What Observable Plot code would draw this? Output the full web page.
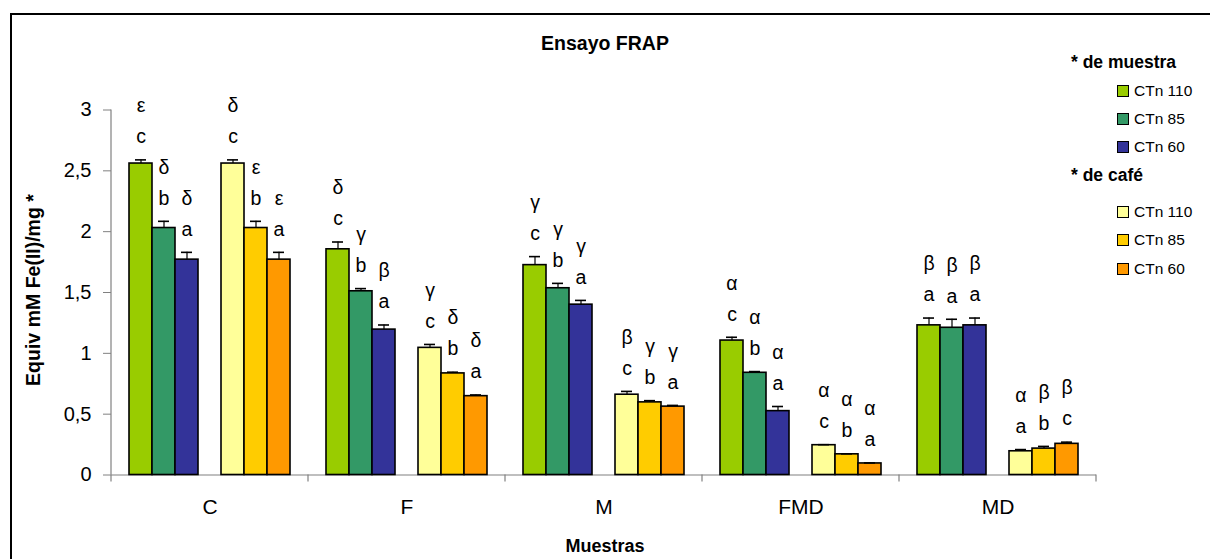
<!DOCTYPE html>
<html>
<head>
<meta charset="utf-8">
<script src="https://cdn.jsdelivr.net/npm/d3@7"></script>
<script src="https://cdn.jsdelivr.net/npm/@observablehq/plot@0.6"></script>
<style>
  html, body { margin: 0; padding: 0; width: 1210px; height: 559px; overflow: hidden; background: #fff; }
  body { position: relative; font-family: "Liberation Sans", Arial, sans-serif; }
  #frame { position: absolute; left: 10px; top: 13px; width: 1400px; height: 800px; border: 2px solid #000; box-sizing: border-box; }
  #chart { position: absolute; left: 0; top: 0; }
  .t { position: absolute; white-space: nowrap; color: #000; }
  .sw { position: absolute; width: 10px; height: 10px; border: 1px solid #000; }
</style>
</head>
<body>
<div id="frame"></div>
<div id="chart"></div>
<div id="overlay"></div>
<script>
// ---- data ----
const groups = ["C", "F", "M", "FMD", "MD"];
const seriesKeys = ["m110", "m85", "m60", "c110", "c85", "c60"];
const seriesNames = ["CTn 110", "CTn 85", "CTn 60", "CTn 110", "CTn 85", "CTn 60"];
const seriesColors = ["#99CC00", "#339966", "#333399", "#FFFF99", "#FFCC00", "#FF9900"];
const legendHeaders = ["* de muestra", "* de café"];
const yTicks = [0, 0.5, 1, 1.5, 2, 2.5, 3];

const m110 = [2.56, 1.855, 1.725, 1.105, 1.23];
const m85  = [2.03, 1.51, 1.535, 0.84, 1.21];
const m60  = [1.77, 1.195, 1.40, 0.525, 1.23];
const c110 = [2.56, 1.045, 0.66, 0.245, 0.195];
const c85  = [2.03, 0.835, 0.597, 0.17, 0.217];
const c60  = [1.77, 0.648, 0.562, 0.095, 0.256];

const m110Err = [0.03, 0.06, 0.07, 0.027, 0.06];
const m85Err  = [0.055, 0.022, 0.04, 0.01, 0.07];
const m60Err  = [0.06, 0.038, 0.035, 0.038, 0.06];
const c110Err = [0.03, 0.028, 0.027, 0.004, 0.014];
const c85Err  = [0.055, 0.01, 0.014, 0.004, 0.018];
const c60Err  = [0.06, 0.01, 0.01, 0.004, 0.014];

const m110Lat = ["c", "c", "c", "c", "a"], m110Gr = ["ε", "δ", "γ", "α", "β"];
const m85Lat  = ["b", "b", "b", "b", "a"], m85Gr  = ["δ", "γ", "γ", "α", "β"];
const m60Lat  = ["a", "a", "a", "a", "a"], m60Gr  = ["δ", "β", "γ", "α", "β"];
const c110Lat = ["c", "c", "c", "c", "a"], c110Gr = ["δ", "γ", "β", "α", "α"];
const c85Lat  = ["b", "b", "b", "b", "b"], c85Gr  = ["ε", "δ", "γ", "α", "β"];
const c60Lat  = ["a", "a", "a", "a", "c"], c60Gr  = ["ε", "δ", "γ", "α", "β"];

const valueSets = [m110, m85, m60, c110, c85, c60];
const errSets = [m110Err, m85Err, m60Err, c110Err, c85Err, c60Err];
const latSets = [m110Lat, m85Lat, m60Lat, c110Lat, c85Lat, c60Lat];
const grSets = [m110Gr, m85Gr, m60Gr, c110Gr, c85Gr, c60Gr];

const rows = [];
seriesKeys.forEach((s, i) => groups.forEach((g, j) => rows.push({
  group: g, series: s, value: valueSets[i][j], err: errSets[i][j],
  lat: latSets[i][j], gr: grSets[i][j]
})));
const barTop = d => d.value + d.err;

const plot = Plot.plot({
  width: 1210, height: 559,
  marginLeft: 110, marginRight: 113, marginTop: 109.5, marginBottom: 84.5,
  style: { fontFamily: "'Liberation Sans', Arial, sans-serif", background: "transparent", overflow: "visible" },
  fx: { domain: groups, padding: 0, label: null },
  x: { domain: ["m110", "m85", "m60", "gap", "c110", "c85", "c60"], paddingInner: 0, paddingOuter: 0.75, axis: null },
  y: { domain: [0, 3], axis: null },
  color: { domain: seriesKeys, range: seriesColors },
  marks: [
    Plot.axisY({ ticks: yTicks, tickFormat: d => String(d).replace(".", ","), tickSize: 8, tickPadding: 12,
      fontSize: 20, stroke: "#808080", fill: "#000", label: null }),
    Plot.axisFx({ anchor: "bottom", tickSize: 0, tickPadding: 24, fontSize: 21, fill: "#000", label: null }),
    Plot.ruleY([0], { stroke: "#808080", strokeWidth: 1.2 }),
    Plot.barY(rows, { fx: "group", x: "series", y: "value", fill: "series", stroke: "#000", strokeWidth: 1.6 }),
    Plot.ruleX(rows, { fx: "group", x: "series", y1: "value", y2: barTop, stroke: "#000", strokeWidth: 1.2 }),
    Plot.tickY(rows, { fx: "group", x: "series", y: barTop, stroke: "#000", strokeWidth: 1.6, insetLeft: 6, insetRight: 6 }),
    Plot.text(rows, { fx: "group", x: "series", y: barTop, text: "lat", dy: -23, fontSize: 19.5, fill: "#000" }),
    Plot.text(rows, { fx: "group", x: "series", y: barTop, text: "gr", dy: -54, fontSize: 19.5, fill: "#000" })
  ]
});
document.getElementById("chart").appendChild(plot);

// axis line and category boundary ticks, positioned from Plot's own scales
const fxS = plot.scale("fx"), yS = plot.scale("y");
const svg = d3.select(plot);
const x0 = fxS.apply(groups[0]);
svg.append("line").attr("x1", x0).attr("x2", x0).attr("y1", yS.apply(3)).attr("y2", yS.apply(0))
  .attr("stroke", "#808080").attr("stroke-width", 1.2);
const bounds = groups.map(g => fxS.apply(g)).concat([fxS.apply(groups[groups.length - 1]) + fxS.bandwidth]);
bounds.forEach(b => svg.append("line").attr("x1", b).attr("x2", b)
  .attr("y1", yS.apply(0)).attr("y2", yS.apply(0) + 7).attr("stroke", "#808080").attr("stroke-width", 1.2));

// titles and legend
const ov = document.getElementById("overlay");
function addText(txt, css) { const d = document.createElement("div"); d.className = "t"; d.textContent = txt; Object.assign(d.style, css); ov.appendChild(d); return d; }
addText("Ensayo FRAP", { left: "605px", top: "43px", transform: "translate(-50%,-50%)", fontWeight: "bold", fontSize: "19.5px" });
addText("Muestras", { left: "605px", top: "546px", transform: "translate(-50%,-50%)", fontWeight: "bold", fontSize: "18px" });
addText("Equiv mM Fe(II)/mg *", { left: "33px", top: "290px", transform: "translate(-50%,-50%) rotate(-90deg)", fontWeight: "bold", fontSize: "19.5px" });

const headerY = [62, 175];
const itemY = [91, 119, 147, 212, 240, 269];
legendHeaders.forEach((h, i) => addText(h, { left: "1071px", top: headerY[i] + "px", transform: "translateY(-50%)", fontWeight: "bold", fontSize: "17.5px" }));
seriesNames.forEach((n, i) => {
  const sw = document.createElement("div"); sw.className = "sw";
  Object.assign(sw.style, { left: "1117px", top: (itemY[i] - 6) + "px", background: seriesColors[i] });
  ov.appendChild(sw);
  addText(n, { left: "1134px", top: itemY[i] + "px", transform: "translateY(-50%)", fontSize: "15.5px" });
});
</script>
</body>
</html>
